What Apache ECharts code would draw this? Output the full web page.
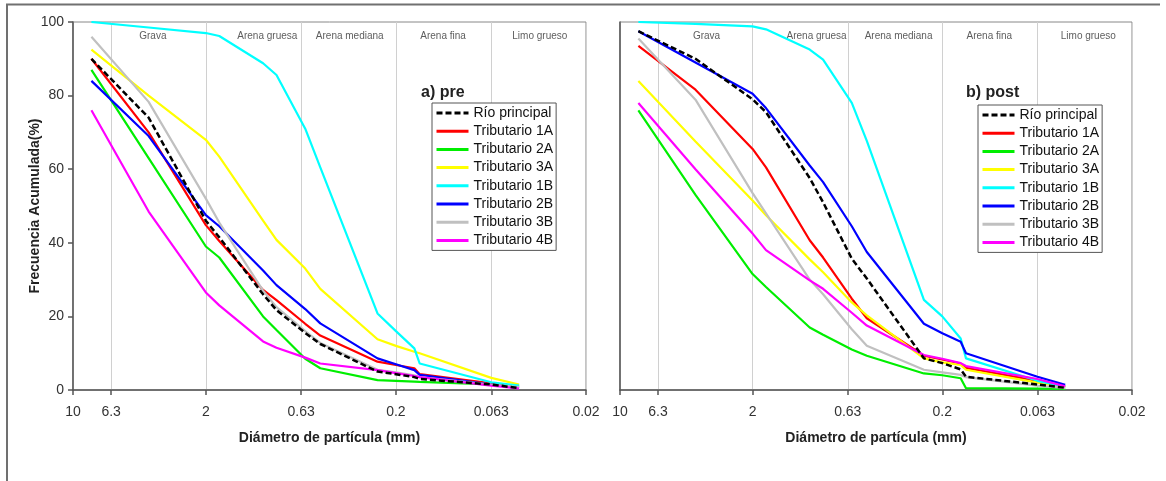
<!DOCTYPE html>
<html>
<head>
<meta charset="utf-8">
<title>Curvas granulométricas</title>
<script src="https://cdn.jsdelivr.net/npm/echarts@6/dist/echarts.min.js"></script>
<style>
  html, body { margin: 0; padding: 0; background: #fff; }
  #chart { width: 1166px; height: 481px; }
</style>
</head>
<body>
<div id="chart"></div>
<script>
  // tamices (mm)
  var diametros = [8, 4, 2, 1.7, 1, 0.85, 0.6, 0.5, 0.25, 0.2, 0.16, 0.15, 0.063, 0.045]
  var xTicks = [10, 6.3, 2, 0.63, 0.2, 0.063, 0.02]
  var zonas = ['Grava', 'Arena gruesa', 'Arena mediana', 'Arena fina', 'Limo grueso']
  var zonasXPre = [3.8, 0.95, 0.35, 0.113, 0.035]
  var zonasXPost = [3.5, 0.92, 0.34, 0.113, 0.034]
  var nombres = ['Río principal', 'Tributario 1A', 'Tributario 2A', 'Tributario 3A',
    'Tributario 1B', 'Tributario 2B', 'Tributario 3B', 'Tributario 4B']

  // a) pre
  var preRio = [90, 74, 46, 41.5, 26, 21.7, 15.5, 12.5, 5, 4.3, 3.5, 3, 1.5, 0.5]
  var pre1A = [90, 70, 44.8, 40.5, 27.2, 24.4, 18, 14.8, 7.7, 6.8, 5.9, 4.3, 1.8, 0.9]
  var pre2A = [87, 63, 39, 36, 20, 16.3, 8.5, 5.9, 2.7, 2.5, 2.3, 2.2, 1.5, 1.2]
  var pre3A = [92.5, 80, 68, 63.4, 46, 40.8, 33, 27.5, 13.8, 12, 10.4, 10, 3.3, 1.5]
  var pre1B = [100, 98.5, 97, 96.2, 88.8, 85.6, 71, 60.5, 20.8, 16, 11.3, 7.2, 2.1, 1.2]
  var pre2B = [84, 69, 47.5, 44.5, 32.5, 28.5, 22, 18.1, 8.6, 7, 5.4, 4.1, 1.5, 0.6]
  var pre3B = [96, 78.3, 52, 45.5, 27, 22.5, 16, 12.8, 5.5, 4.8, 4, 3.5, 1.5, 0.8]
  var pre4B = [76, 48.5, 26.5, 23, 13.2, 11.5, 8.8, 7.2, 5.4, 4.6, 3.8, 3.5, 1.2, 0.4]

  // b) post
  var postRio = [97.5, 90, 79, 75.5, 57.6, 51, 35.7, 30.3, 8.6, 7.3, 5.6, 3.6, 1.5, 0.6]
  var post1A = [93.5, 81.6, 65.5, 60.5, 40.7, 36, 24.8, 19.5, 9.3, 8.3, 7.2, 6, 2.5, 0.9]
  var post2A = [76, 53, 31.5, 28, 17, 15, 11, 9.3, 4.5, 4, 3.2, 0.5, 0.4, 0.3]
  var post3A = [84, 67.5, 51.5, 47.5, 35.5, 32, 23.8, 20.3, 8.6, 7.5, 6.8, 5.5, 2, 0.8]
  var post1B = [100, 99.5, 98.8, 98, 92.5, 89.8, 78, 67.7, 24.5, 20, 14, 8.6, 2.5, 0.9]
  var post2B = [97.5, 89, 80.5, 76.6, 61, 56.5, 44.5, 37.5, 18, 15.4, 13.1, 10, 3.6, 1.4]
  var post3B = [95.5, 78.9, 53.5, 48, 30, 26, 16.5, 12, 5.5, 4.8, 4.1, 3.5, 1.2, 0.5]
  var post4B = [78, 60, 42.5, 38, 29.8, 27.5, 21, 17.5, 9.5, 8.5, 7.3, 6.5, 3, 1]

  var colores = ['#000000', '#ff0000', '#00ee00', '#ffff00', '#00ffff', '#0000ff', '#c0c0c0', '#ff00ff']
  var pre = [preRio, pre1A, pre2A, pre3A, pre1B, pre2B, pre3B, pre4B]
  var post = [postRio, post1A, post2A, post3A, post1B, post2B, post3B, post4B]

  function pares(vals) {
    return diametros.map(function (d, i) { return [d, vals[i]] })
  }

  function lineas(valores, idx) {
    return valores.map(function (vals, i) {
      return {
        name: nombres[i],
        type: 'line',
        xAxisIndex: idx,
        yAxisIndex: idx,
        data: pares(vals),
        symbol: 'none',
        z: i === 0 ? 5 : 3,
        lineStyle: {
          color: colores[i],
          width: i === 0 ? 2.5 : 2.2,
          type: i === 0 ? [6, 3] : 'solid'
        },
        itemStyle: { color: colores[i] }
      }
    })
  }

  function etiquetasZona(xs, idx, yv) {
    return {
      type: 'scatter',
      xAxisIndex: idx,
      yAxisIndex: idx,
      symbolSize: 0,
      silent: true,
      z: 1,
      label: { show: true, position: 'inside', formatter: '{b}', fontSize: 10, color: '#333' },
      data: zonas.map(function (z, i) { return { name: z, value: [xs[i], yv] } })
    }
  }

  function ejeX(idx) {
    return {
      type: 'log',
      logBase: 10,
      gridIndex: idx,
      min: 0.02,
      max: 10,
      inverse: true,
      name: 'Diámetro de partícula (mm)',
      nameLocation: 'middle',
      nameGap: 41,
      nameMoveOverlap: false,
      nameTextStyle: { fontSize: 14, fontWeight: 'bold', color: '#222' },
      axisLine: { show: true, onZero: false, lineStyle: { color: '#555', width: 1.5 } },
      axisTick: { show: true, customValues: xTicks, length: 5, lineStyle: { color: '#555', width: 1.5 } },
      axisLabel: {
        customValues: xTicks,
        fontSize: 14,
        color: '#333',
        margin: 15,
        formatter: function (v) { return String(+(+v).toPrecision(2)) }
      },
      splitLine: { show: true, lineStyle: { color: '#d0d0d0', width: 1 } }
    }
  }

  function ejeY(idx) {
    return {
      type: 'value',
      gridIndex: idx,
      min: 0,
      max: 100,
      interval: 20,
      name: idx === 0 ? 'Frecuencia Acumulada(%)' : '',
      nameLocation: 'middle',
      nameGap: 31,
      nameMoveOverlap: false,
      nameTextStyle: { fontSize: 14, fontWeight: 'bold', color: '#222' },
      axisLine: { show: true, lineStyle: { color: '#555', width: 1.5 } },
      axisTick: { show: idx === 0, length: 5, lineStyle: { color: '#555', width: 1.5 } },
      axisLabel: { show: idx === 0, fontSize: 14, color: '#333', margin: 9 },
      splitLine: { show: false }
    }
  }

  function leyenda(left, top) {
    return {
      data: nombres,
      orient: 'vertical',
      left: left,
      top: top,
      itemWidth: 32,
      itemHeight: 14,
      itemGap: 4.2,
      padding: [3, 3, 3, 3],
      borderColor: '#555',
      borderWidth: 1,
      backgroundColor: '#fff',
      selectedMode: false,
      itemStyle: { opacity: 0 },
      lineStyle: { width: 3 },
      textStyle: { fontSize: 14, color: '#111' }
    }
  }

  var chart = echarts.init(document.getElementById('chart'))
  chart.setOption({
    animation: false,
    textStyle: { fontFamily: 'Liberation Sans, Arial, sans-serif' },
    title: [
      { text: 'a) pre', left: 416, top: 80, textStyle: { fontSize: 16, fontWeight: 'bold', color: '#222' } },
      { text: 'b) post', left: 961, top: 80, textStyle: { fontSize: 16, fontWeight: 'bold', color: '#222' } }
    ],
    legend: [leyenda(432, 103), leyenda(978, 105)],
    grid: [
      { left: 73, top: 22, width: 513, height: 368, show: true, borderColor: '#888', borderWidth: 1 },
      { left: 620, top: 22, width: 512, height: 368, show: true, borderColor: '#888', borderWidth: 1 }
    ],
    xAxis: [ejeX(0), ejeX(1)],
    yAxis: [ejeY(0), ejeY(1)],
    graphic: [{
      type: 'polyline',
      shape: { points: [[7, 495], [7, 4.5], [1160, 4.5]] },
      style: { stroke: '#707070', lineWidth: 2, fill: null },
      silent: true
    }],
    series: [etiquetasZona(zonasXPre, 0, 96), etiquetasZona(zonasXPost, 1, 96)]
      .concat(lineas(pre, 0))
      .concat(lineas(post, 1))
  })
</script>
</body>
</html>
